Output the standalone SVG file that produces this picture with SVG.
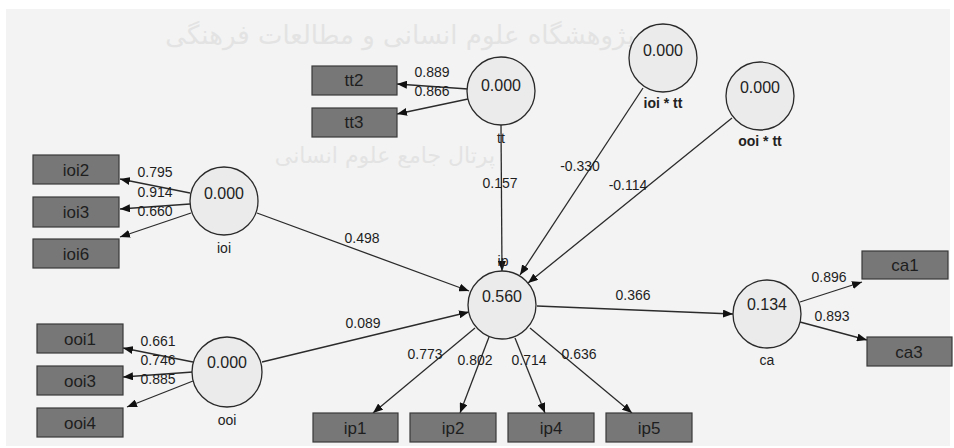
<svg xmlns="http://www.w3.org/2000/svg" width="954" height="448" viewBox="0 0 954 448">
<defs>
<marker id="ah" viewBox="0 0 10 8" refX="10" refY="4" markerWidth="10" markerHeight="8" markerUnits="userSpaceOnUse" orient="auto">
<path d="M0,0 L10,4 L0,8 Z" fill="#111"/>
</marker>
</defs>
<style>
.bg{fill:#f3f3f3}
.wm{font-family:"DejaVu Sans",sans-serif;fill:#e3e3e3}
.lv{fill:#ebebeb;stroke:#2a2a2a;stroke-width:1.3}
.mv rect{fill:#777;stroke:#3a3a3a;stroke-width:1.2}
.mv text{font-family:"Liberation Sans",Arial,sans-serif;font-size:17px;fill:#1e1e1e;text-anchor:middle}
.val{font-family:"Liberation Sans",Arial,sans-serif;font-size:16px;fill:#222;text-anchor:middle}
.nm{font-family:"Liberation Sans",Arial,sans-serif;font-size:14px;fill:#222;text-anchor:middle}
.nmb{font-family:"Liberation Sans",Arial,sans-serif;font-size:14px;font-weight:bold;fill:#222;text-anchor:middle}
#edges line{stroke:#2b2b2b;stroke-width:1.3;marker-end:url(#ah)}
.el{font-family:"Liberation Sans",Arial,sans-serif;font-size:14px;fill:#1e1e1e;text-anchor:middle}
</style>
<rect x="0" y="0" width="954" height="448" fill="#ffffff"/>
<rect class="bg" x="6" y="9" width="944" height="437"/>
<g id="watermark">
<text class="wm" x="400" y="44" font-size="26" text-anchor="middle" direction="rtl">پژوهشگاه علوم انسانی و مطالعات فرهنگی</text>
<text class="wm" x="385" y="163" font-size="22" text-anchor="middle" direction="rtl">پرتال جامع علوم انسانی</text>
</g>

<g id="edges">
<line x1="468" y1="89" x2="397" y2="84"/>
<line x1="468" y1="99" x2="397" y2="114"/>
<line x1="190" y1="193" x2="120" y2="179"/>
<line x1="190" y1="204" x2="120" y2="209"/>
<line x1="191" y1="213" x2="120" y2="237"/>
<line x1="193" y1="362" x2="123" y2="348"/>
<line x1="193" y1="372" x2="123" y2="377"/>
<line x1="193" y1="381" x2="127" y2="407"/>
<line x1="501" y1="125" x2="502" y2="271"/>
<line x1="643" y1="88" x2="520" y2="275"/>
<line x1="732" y1="118" x2="528" y2="283"/>
<line x1="257" y1="213" x2="469" y2="291"/>
<line x1="262" y1="362" x2="469" y2="312"/>
<line x1="537" y1="306" x2="733" y2="314"/>
<line x1="475" y1="328" x2="373" y2="413"/>
<line x1="489" y1="337" x2="460" y2="413"/>
<line x1="515" y1="338" x2="545" y2="413"/>
<line x1="530" y1="328" x2="632" y2="413"/>
<line x1="800" y1="302" x2="862" y2="282"/>
<line x1="800" y1="322" x2="867" y2="340"/>
</g>
<g id="edge-labels">
<text class="el" x="432" y="77">0.889</text>
<text class="el" x="432" y="96">0.866</text>
<text class="el" x="155" y="177">0.795</text>
<text class="el" x="155" y="197">0.914</text>
<text class="el" x="155" y="216">0.660</text>
<text class="el" x="158" y="346">0.661</text>
<text class="el" x="158" y="365">0.746</text>
<text class="el" x="158" y="384">0.885</text>
<text class="el" x="500" y="188">0.157</text>
<text class="el" x="580" y="171">-0.330</text>
<text class="el" x="628" y="190">-0.114</text>
<text class="el" x="362" y="243">0.498</text>
<text class="el" x="363" y="328">0.089</text>
<text class="el" x="633" y="300">0.366</text>
<text class="el" x="425" y="359">0.773</text>
<text class="el" x="475" y="365">0.802</text>
<text class="el" x="529" y="365">0.714</text>
<text class="el" x="579" y="359">0.636</text>
<text class="el" x="829" y="282">0.896</text>
<text class="el" x="832" y="321">0.893</text>
</g>

<g id="tt"><circle class="lv" cx="501" cy="91" r="34"/><text class="val" x="501" y="91">0.000</text><text class="nm" x="501" y="143">tt</text></g>
<g id="ioi_tt"><circle class="lv" cx="663" cy="58" r="34"/><text class="val" x="663" y="56">0.000</text><text class="nmb" x="663" y="108">ioi * tt</text></g>
<g id="ooi_tt"><circle class="lv" cx="760" cy="96" r="34"/><text class="val" x="760" y="93">0.000</text><text class="nmb" x="760" y="146">ooi * tt</text></g>
<g id="ioi"><circle class="lv" cx="224" cy="201" r="34"/><text class="val" x="224" y="199">0.000</text><text class="nm" x="224" y="253">ioi</text></g>
<g id="ooi"><circle class="lv" cx="227" cy="372" r="35"/><text class="val" x="227" y="368">0.000</text><text class="nm" x="227" y="425">ooi</text></g>
<g id="ip"><text class="nm" x="503" y="266">ip</text><circle class="lv" cx="502" cy="305" r="34"/><text class="val" x="502" y="302">0.560</text></g>
<g id="ca"><circle class="lv" cx="767" cy="314" r="34"/><text class="val" x="767" y="310">0.134</text><text class="nm" x="767" y="365">ca</text></g>

<g id="tt2" class="mv"><rect x="312" y="66" width="85" height="29"/><text x="354" y="86">tt2</text></g>
<g id="tt3" class="mv"><rect x="312" y="108" width="85" height="29"/><text x="354" y="128">tt3</text></g>
<g id="ioi2" class="mv"><rect x="33" y="155" width="86" height="29"/><text x="76" y="176">ioi2</text></g>
<g id="ioi3" class="mv"><rect x="33" y="197" width="86" height="30"/><text x="76" y="218">ioi3</text></g>
<g id="ioi6" class="mv"><rect x="33" y="239" width="86" height="29"/><text x="76" y="260">ioi6</text></g>
<g id="ooi1" class="mv"><rect x="37" y="324" width="86" height="29"/><text x="80" y="345">ooi1</text></g>
<g id="ooi3" class="mv"><rect x="37" y="366" width="86" height="29"/><text x="80" y="387">ooi3</text></g>
<g id="ooi4" class="mv"><rect x="37" y="408" width="86" height="29"/><text x="80" y="429">ooi4</text></g>
<g id="ip1" class="mv"><rect x="313" y="413" width="85" height="29"/><text x="355" y="434">ip1</text></g>
<g id="ip2" class="mv"><rect x="410" y="413" width="86" height="29"/><text x="453" y="434">ip2</text></g>
<g id="ip4" class="mv"><rect x="508" y="413" width="86" height="29"/><text x="551" y="434">ip4</text></g>
<g id="ip5" class="mv"><rect x="606" y="413" width="86" height="29"/><text x="649" y="434">ip5</text></g>
<g id="ca1" class="mv"><rect x="862" y="251" width="86" height="28"/><text x="905" y="271">ca1</text></g>
<g id="ca3" class="mv"><rect x="867" y="337" width="85" height="29"/><text x="909" y="358">ca3</text></g>
</svg>
